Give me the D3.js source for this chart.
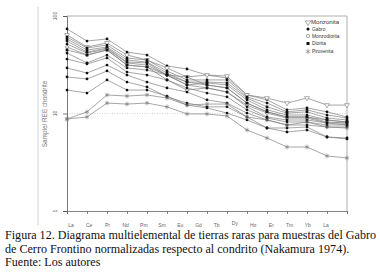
<!DOCTYPE html>
<html><head><meta charset="utf-8">
<script src="https://cdn.jsdelivr.net/npm/d3@7"></script>
<style>body{margin:0;background:#fff}svg{display:block}</style>
</head><body>
<script>
const elements = ["La","Ce","Pr","Nd","Pm","Sm","Eu","Gd","Tb","Dy","Ho","Er","Tm","Yb","Lu"];
const tickLabels = ["La","Ce","Pr","Nd","Pm","Sm","Eu","Gd","Tb","Dy","Ho","Er","Tm","Yb","La"];
const yTicks = [1,10,100];
const gabroA = [73.6,55.4,58.1,42.7,39.8,30.7,28.6,24.8,23.1,15.5,13.8,10.9,11.4,10.4,9.21];
const monzonita = [63.9,48.1,52.9,39.8,35.4,29.3,23.7,24.8,24.2,15.5,14.4,12.8,14.4,12.2,12.2];
const gabroC = [60.9,47.0,50.4,37.1,35.4,27.3,22.1,22.1,22.1,14.8,12.8,10.4,10.9,9.65,8.99];
const dioritaD = [58.1,44.8,48.1,35.4,33.7,26.0,21.0,21.0,20.6,14.4,11.7,10.1,10.4,8.99,8.58];
const gabroE = [55.4,42.7,47.0,33.7,33.0,24.8,19.6,20.6,19.6,13.8,10.9,9.65,9.65,8.58,8.18];
const gabroF = [51.6,41.7,45.9,33.0,31.4,24.8,23.7,19.6,18.3,12.8,10.4,9.21,9.21,8.18,7.99];
const monzodiorita = [48.1,39.8,44.8,31.4,30.0,22.1,17.4,18.3,16.6,12.2,10.1,8.99,8.99,7.99,7.62];
const dioritaH = [44.8,39.8,44.8,31.4,30.0,24.8,21.0,19.6,18.3,12.8,10.4,9.21,9.21,8.58,8.18];
const gabroI = [41.7,33.0,39.8,29.3,27.9,24.8,19.6,18.3,16.6,11.7,9.21,8.58,8.58,7.99,7.99];
const gabroJ = [36.2,32.2,37.1,26.6,24.8,22.1,18.3,16.2,14.8,10.9,8.99,8.18,8.18,7.62,7.62];
const gabroK = [29.3,26.0,31.4,24.8,21.0,18.3,16.6,13.8,12.8,10.1,8.58,7.62,7.62,7.27,7.27];
const gabroL = [23.7,22.6,27.3,21.0,18.7,14.8,12.8,11.7,11.7,9.21,7.10,7.10,7.27,5.74,5.61];
const gabroM = [17.4,16.2,22.1,17.4,17.4,15.1,12.2,11.4,10.1,8.58,7.10,6.46,6.77,5.74,5.48];
const piroxenita1 = [8.78,10.4,15.5,15.1,15.5,14.4,12.2,12.5,12.5,9.21,8.58,7.62,8.18,7.27,7.10];
const piroxenita2 = [8.78,9.21,12.8,12.5,12.8,11.7,9.9,9.9,9.43,6.77,5.61,4.53,4.53,3.67,3.50];
const legendNames = ["Monzonita","Gabro","Monzodiorita","Diorita","Piroxenita"];
const caption = ["Figura 12. Diagrama multielemental de tierras raras para muestras del Gabro",
  "de Cerro Frontino normalizadas respecto al condrito (Nakamura 1974).",
  "Fuente: Los autores"];

const series = [
  {v:gabroA,t:"Gabro"},{v:monzonita,t:"Monzonita"},{v:gabroC,t:"Gabro"},{v:dioritaD,t:"Diorita"},
  {v:gabroE,t:"Gabro"},{v:gabroF,t:"Gabro"},{v:monzodiorita,t:"Monzodiorita"},{v:dioritaH,t:"Diorita"},
  {v:gabroI,t:"Gabro"},{v:gabroJ,t:"Gabro"},{v:gabroK,t:"Gabro"},{v:gabroL,t:"Gabro"},{v:gabroM,t:"Gabro"},
  {v:piroxenita1,t:"Piroxenita"},{v:piroxenita2,t:"Piroxenita"}
];

const W=380,H=278;
const svg=d3.select("body").append("svg").attr("width",W).attr("height",H);
const x=d3.scalePoint().domain(elements).range([67,347]);
const xl=d3.scalePoint().domain(d3.range(elements.length)).range([71,326]);
const y=d3.scaleLog().domain([1,100]).range([211,16]);

svg.append("rect").attr("x",37).attr("y",7).attr("width",2).attr("height",218).attr("fill","#e2ecf0");

svg.append("line").attr("x1",67).attr("x2",347).attr("y1",16).attr("y2",16).attr("stroke","#9a9a9a").attr("stroke-width",0.8);
svg.append("line").attr("x1",347).attr("x2",347).attr("y1",16).attr("y2",211).attr("stroke","#9a9a9a").attr("stroke-width",0.8);
svg.append("line").attr("x1",67).attr("x2",347).attr("y1",y(10)).attr("y2",y(10))
  .attr("stroke","#bbb").attr("stroke-width",0.6).attr("stroke-dasharray","1,1.5");

const gy=svg.append("g").attr("transform","translate(67,0)")
  .call(d3.axisLeft(y).tickValues(yTicks).tickSize(4).tickFormat(""));
gy.selectAll("path,line").attr("stroke","#555").attr("stroke-width",0.8);
const gx=svg.append("g").attr("transform","translate(0,211)")
  .call(d3.axisBottom(x).tickSize(3).tickFormat(""));
gx.selectAll("path,line").attr("stroke","#666").attr("stroke-width",0.8);

yTicks.forEach(t=>{
  svg.append("text").attr("transform",`translate(57,${y(t)}) rotate(-90)`).attr("text-anchor","middle")
    .attr("font-family","Liberation Sans, Arial").attr("font-size",5).attr("fill","#555").text(t);
});
svg.append("text").attr("transform","translate(47,114) rotate(-90)").attr("text-anchor","middle")
  .attr("font-family","Liberation Sans, Arial").attr("font-size",6.4).attr("fill","#777").text("Sample/ REE chondrite");

tickLabels.forEach((t,i)=>{
  svg.append("text").attr("x",xl(i)).attr("y",t==="Dy"?225:227).attr("text-anchor","middle")
    .attr("font-family","Liberation Sans, Arial").attr("font-size",5).attr("fill","#666").text(t);
});

const sym={
  "Gabro":{type:d3.symbolCircle,size:6,fill:"#111",stroke:"none"},
  "Monzonita":{type:d3.symbolTriangle,size:10,fill:"#fff",stroke:"#777",rot:180},
  "Monzodiorita":{type:d3.symbolCircle,size:7,fill:"#fff",stroke:"#666"},
  "Diorita":{type:d3.symbolSquare,size:7,fill:"#111",stroke:"none"},
  "Piroxenita":{type:d3.symbolAsterisk,size:16,fill:"none",stroke:"#777"}
};
const line=d3.line().x((d,i)=>x(elements[i])).y(d=>y(d));
series.forEach(s=>{
  svg.append("path").attr("d",line(s.v)).attr("fill","none").attr("stroke","#808080").attr("stroke-width",0.7);
});
series.forEach(s=>{
  const st=sym[s.t];
  s.v.forEach((d,i)=>{
    svg.append("path").attr("d",d3.symbol().type(st.type).size(st.size)())
      .attr("transform",`translate(${x(elements[i])},${y(d)})`+(st.rot?` rotate(${st.rot})`:""))
      .attr("fill",st.fill).attr("stroke",st.stroke).attr("stroke-width",0.6);
  });
});

const ly=[24,30.5,37.5,45,53];
legendNames.forEach((n,i)=>{
  const st=sym[n];
  svg.append("path").attr("d",d3.symbol().type(st.type).size(st.size*1.3)())
    .attr("transform",`translate(308,${ly[i]-1.5})`+(st.rot?` rotate(${st.rot})`:""))
    .attr("fill",st.fill).attr("stroke",st.stroke).attr("stroke-width",0.6);
  svg.append("text").attr("x",n==="Monzonita"?311:312).attr("y",ly[i])
    .attr("font-family","Liberation Sans, Arial").attr("font-size",n==="Monzonita"?6.1:4.8)
    .attr("fill","#333").text(n);
});

caption.forEach((c,i)=>{
  svg.append("text").attr("x",5).attr("y",239+i*13.5).attr("font-family","Liberation Serif, Times New Roman, serif")
    .attr("font-size",12.1).attr("fill","#111").text(c);
});
</script>
</body></html>
